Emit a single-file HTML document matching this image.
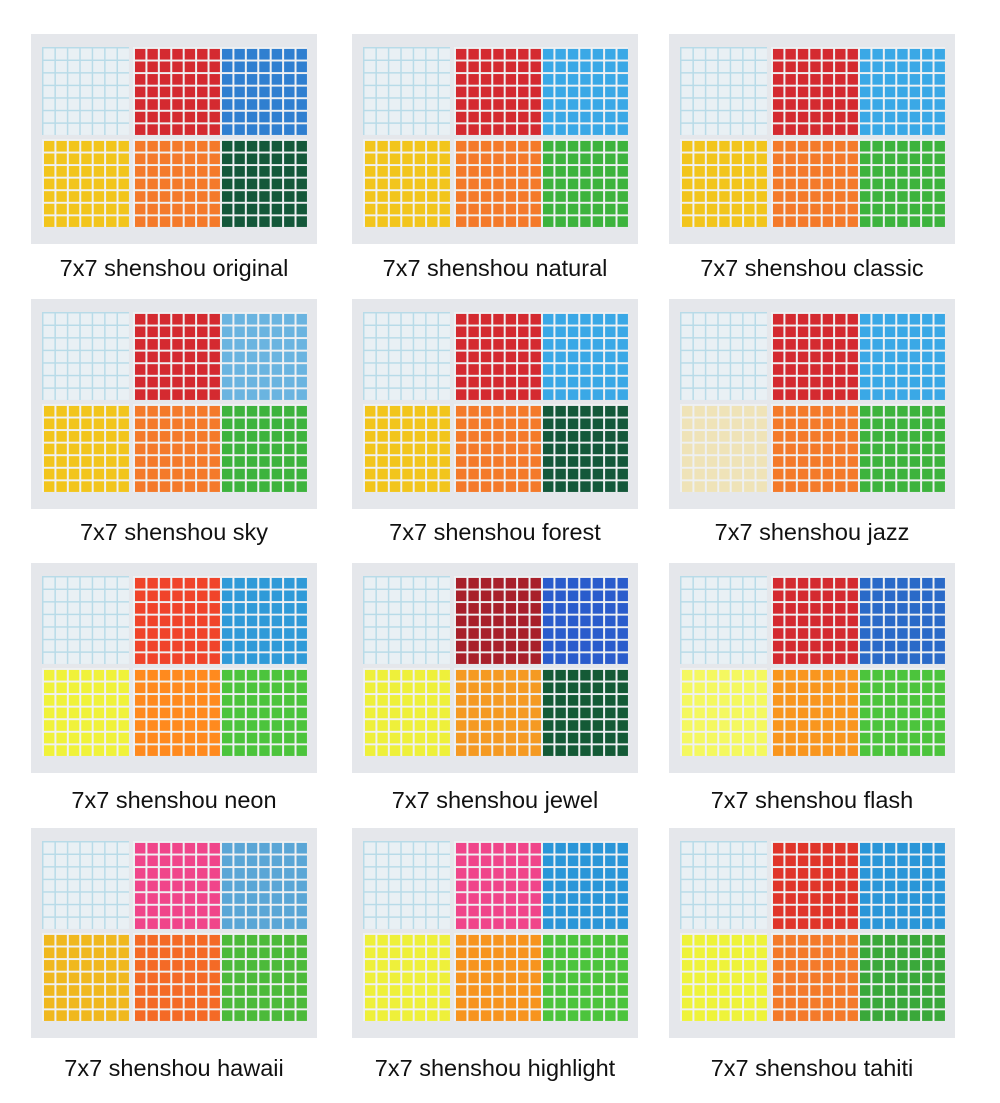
<!DOCTYPE html>
<html><head><meta charset="utf-8"><style>
html,body{margin:0;padding:0;background:#fff;}
body{width:1000px;height:1103px;position:relative;overflow:hidden;font-family:"Liberation Sans",sans-serif;}
.p{position:absolute;width:286px;height:210px;background:#e5e7eb;}
.s{position:absolute;width:87px;height:88px;
 background-image:linear-gradient(to right,#eef0f2 2px,transparent 2px),linear-gradient(to bottom,#eef0f2 2px,transparent 2px);
 background-size:12.43px 100%,100% 12.57px;}
.w{background-color:#e9f0f4;background-image:linear-gradient(to right,#b8dbe8 1.5px,transparent 1.5px),linear-gradient(to bottom,#b8dbe8 1.5px,transparent 1.5px);}
.l{position:absolute;width:320px;text-align:center;font-size:23.5px;color:#111;}
</style></head><body>
<div id="root"></div>
<div class="l" style="left:14px;top:255px">7x7 shenshou original</div>
<div class="l" style="left:335px;top:255px">7x7 shenshou natural</div>
<div class="l" style="left:652px;top:255px">7x7 shenshou classic</div>
<div class="l" style="left:14px;top:519px">7x7 shenshou sky</div>
<div class="l" style="left:335px;top:519px">7x7 shenshou forest</div>
<div class="l" style="left:652px;top:519px">7x7 shenshou jazz</div>
<div class="l" style="left:14px;top:787px">7x7 shenshou neon</div>
<div class="l" style="left:335px;top:787px">7x7 shenshou jewel</div>
<div class="l" style="left:652px;top:787px">7x7 shenshou flash</div>
<div class="l" style="left:14px;top:1055px">7x7 shenshou hawaii</div>
<div class="l" style="left:335px;top:1055px">7x7 shenshou highlight</div>
<div class="l" style="left:652px;top:1055px">7x7 shenshou tahiti</div>
<script>
var R='#d42a30',B='#3aa8e6',Y='#f2c51c',O='#f47a2a',G='#3db33d',DG='#14583a';
var sets=[
[R,'#2f7fd0',Y,O,DG],[R,B,Y,O,G],[R,B,Y,O,G],
[R,'#6ab4e0',Y,O,G],[R,B,Y,O,DG],[R,B,'#efe3b8',O,G],
['#f0442a','#2f9ad8','#f0f23a','#ff8a1e','#4cc43c'],['#a8202a','#2a5ccc','#eef03a','#f59a22','#145a36'],['#d42a30','#2a6ac8','#f4f860','#f9961e','#4cc43c'],
['#f0458a','#5aa6d6','#f0b81e','#f46a26','#4cba3a'],['#f0458a','#2a96d8','#eef03a','#f7941e','#4cc43c'],['#e0352a','#2a96d8','#eef33a','#f47a2a','#3aa83a']];
var px=[31,352,669],py=[34,299,563,828],h='';
for(var i=0;i<12;i++){var c=sets[i],x=px[i%3],y=py[Math.floor(i/3)];
h+='<div class="p" style="left:'+x+'px;top:'+y+'px">';
var pos=[[11,13],[102,13],[189,13],[11,105],[102,105],[189,105]];
for(var j=0;j<6;j++){h+='<div class="s'+(j==0?' w':'')+'" style="left:'+pos[j][0]+'px;top:'+pos[j][1]+'px;'+(j>0?'background-color:'+c[j-1]:'')+'"></div>';}
h+='</div>';}
document.getElementById('root').innerHTML=h;
</script>
</body></html>
